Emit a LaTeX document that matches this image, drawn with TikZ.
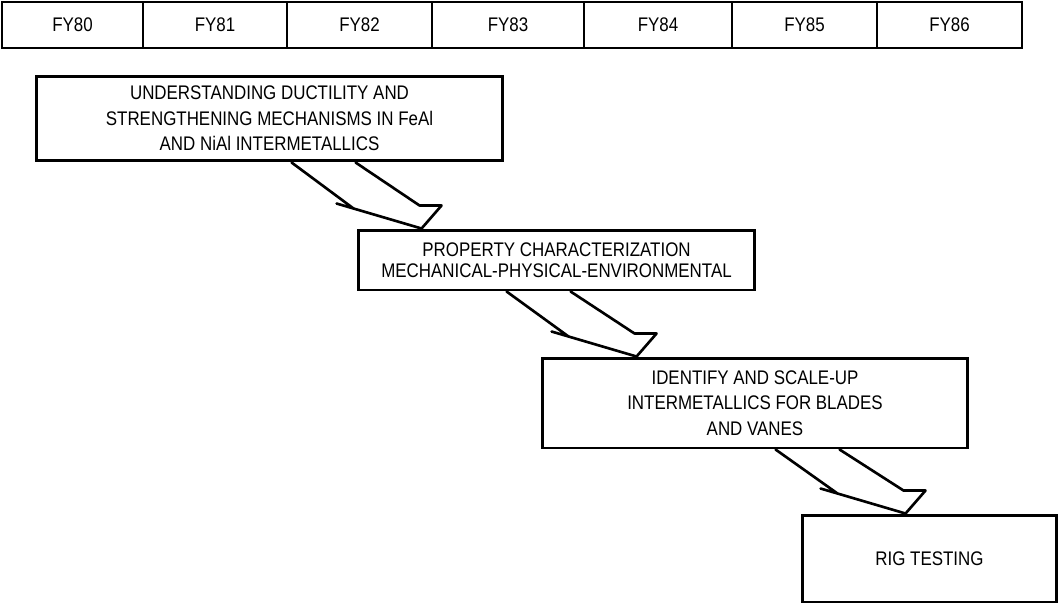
\documentclass[tikz,border=0pt]{standalone}
\usepackage{fontspec}
\setmainfont{Liberation Sans}[FakeStretch=0.86]
\usepackage{tikz}
\usetikzlibrary{calc,positioning}

\tikzset{
  labelfont/.style={font=\fontsize{11.2}{14.5}\selectfont},
  yearcell/.style={draw, line width=1.5pt, minimum height=0.92cm, inner sep=0pt, labelfont},
  taskbox/.style={draw, line width=1.7pt, align=center, inner sep=0pt, labelfont},
  boltline/.style={line width=1.5pt, line join=round, line cap=round}
}

\newcommand{\bolt}[3]{%
  \coordinate (tip) at ($(#2.north west)+(#3,0)$);
  \coordinate (bl) at ($(tip)+(-130,0)$);
  \coordinate (br) at ($(tip)+(-66,0)$);
  \draw[boltline] (bl |- #1.south) -- ($(tip)+(-68,-20)$) -- ($(tip)+(-85,-25)$)
    -- (tip) -- ($(tip)+(20,-23)$) -- ($(tip)+(-2,-23)$) -- (br |- #1.south);
}

\begin{document}
\begin{tikzpicture}[x=0.02cm, y=-0.02cm]
\useasboundingbox (0,0) rectangle (1061,608);

\foreach \a/\b/\yr in {2/143/80, 143/287/81, 287/432/82, 432/584/83, 584/732/84, 732/877/85, 877/1022/86}{
  \pgfmathsetmacro\w{(\b-\a)*0.02}
  \node[yearcell, minimum width=\w cm] (fy\yr) at ({(\a+\b)/2},25) {FY\yr};
}

\node[taskbox, minimum width=9.34cm, minimum height=1.7cm] (ductility) at (269.5,118.5)
  {UNDERSTANDING DUCTILITY AND\\ STRENGTHENING MECHANISMS IN FeAl\\ AND NiAl INTERMETALLICS};
\node[taskbox, minimum width=7.94cm, minimum height=1.2cm] (property) at (556.5,260)
  {PROPERTY CHARACTERIZATION\\[-2.5pt] MECHANICAL-PHYSICAL-ENVIRONMENTAL};
\node[taskbox, minimum width=8.52cm, minimum height=1.8cm] (scaleup) at (755,403)
  {IDENTIFY AND SCALE-UP\\ INTERMETALLICS FOR BLADES\\ AND VANES};
\node[taskbox, minimum width=5.1cm, minimum height=1.74cm] (rig) at (929.5,558.5)
  {RIG TESTING};

\bolt{ductility}{property}{65}
\bolt{property}{scaleup}{96}
\bolt{scaleup}{rig}{105}
\end{tikzpicture}
\end{document}
